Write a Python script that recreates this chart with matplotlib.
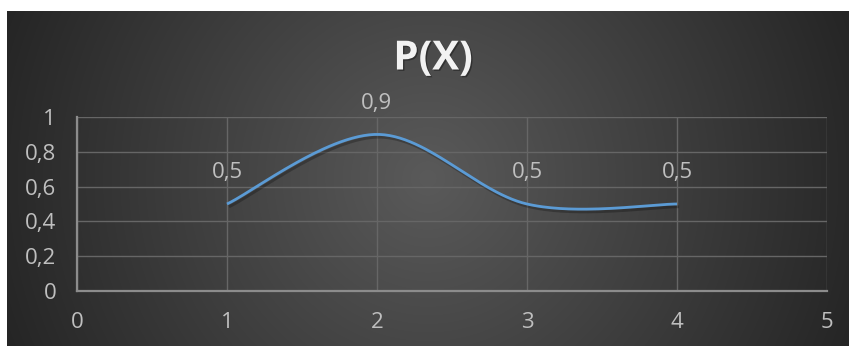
import numpy as np
import matplotlib
matplotlib.use("Agg")
import matplotlib.pyplot as plt
import matplotlib.patheffects as pe
from matplotlib.ticker import FuncFormatter, MultipleLocator

# Series data
x_vals = [1, 2, 3, 4]
p_vals = [0.5, 0.9, 0.5, 0.5]
title_text = "P(X)"

plt.rcParams['font.family'] = ['Open Sans', 'DejaVu Sans']

W, H, DPI = 849, 347, 100
fig = plt.figure(figsize=(W / DPI, H / DPI), dpi=DPI)
fig.patch.set_facecolor("white")

# Chart panel with a radial grey gradient
px0, px1, py0, py1 = 7, 849, 11, 346
bg = fig.add_axes([px0 / W, 1 - py1 / H, (px1 - px0) / W, (py1 - py0) / H])
bg.set_axis_off()
gx = np.arange(px0, px1) + 0.5
gy = np.arange(py0, py1) + 0.5
XX, YY = np.meshgrid(gx, gy)
cx, cy = (px0 + px1) / 2, (py0 + py1) / 2
rmax = np.hypot(px1 - cx, py1 - cy)
r = np.clip(np.hypot(XX - cx, YY - cy) / rmax, 0, 1)
c_in, c_out = 0x5a / 255, 0x25 / 255
g = c_in + (c_out - c_in) * r
img = np.dstack([g, g, g])
bg.imshow(img, aspect="auto", extent=[0, 1, 0, 1], interpolation="bilinear")
bg.set_xlim(0, 1)
bg.set_ylim(0, 1)

# Plot area
ax_l, ax_r, ax_t, ax_b = 77, 827, 117, 291
ax = fig.add_axes([ax_l / W, 1 - ax_b / H, (ax_r - ax_l) / W, (ax_b - ax_t) / H])
ax.set_facecolor("none")
ax.set_xlim(0, 5)
ax.set_ylim(0, 1)
ax.xaxis.set_major_locator(MultipleLocator(1))
ax.yaxis.set_major_locator(MultipleLocator(0.2))

def comma_fmt(v, _pos=None):
    s = f"{v:.1f}".rstrip("0").rstrip(".")
    return s.replace(".", ",")

ax.xaxis.set_major_formatter(FuncFormatter(comma_fmt))
ax.yaxis.set_major_formatter(FuncFormatter(comma_fmt))
ax.grid(True, color="#666666", linewidth=1.0)
ax.set_axisbelow(True)
for side in ("top", "right"):
    ax.spines[side].set_visible(False)
for side in ("left", "bottom"):
    ax.spines[side].set_color("#8c8c8c")
    ax.spines[side].set_linewidth(1.6)
ax.tick_params(length=0, labelsize=16, colors="#bfbfbf")
ax.tick_params(axis="x", pad=15)
ax.tick_params(axis="y", pad=15)

# Smoothed curve (cubic Bezier segments through the points)
pts = np.column_stack([x_vals, p_vals]).astype(float)
n = len(pts)
curve = []
for i in range(n - 1):
    p0 = pts[max(i - 1, 0)]
    p1 = pts[i]
    p2 = pts[i + 1]
    p3 = pts[min(i + 2, n - 1)]
    c1 = p1 + (p2 - p0) / 6
    c2 = p2 - (p3 - p1) / 6
    t = np.linspace(0, 1, 60)[:, None]
    seg = ((1 - t) ** 3) * p1 + 3 * t * (1 - t) ** 2 * c1 + 3 * t ** 2 * (1 - t) * c2 + t ** 3 * p2
    curve.append(seg if i == 0 else seg[1:])
curve = np.vstack(curve)
ax.plot(curve[:, 0], curve[:, 1], color="#5b9bd5", linewidth=2.0,
        solid_capstyle="butt", clip_on=False,
        path_effects=[pe.SimpleLineShadow(offset=(1.5, -2), shadow_color="black", alpha=0.25),
                      pe.Normal()])

# Value labels
for xv, yv in zip(x_vals, p_vals):
    ax.annotate(comma_fmt(yv), (xv, yv), xytext=(0, 22.5), textcoords="offset points",
                ha="center", va="center", fontsize=16, color="#bfbfbf")

# Title with a soft drop shadow
fig.text(433 / W, 1 - 59 / H, title_text, ha="center", va="center",
         fontsize=29, fontweight="bold", color="#f2f2f2",
         path_effects=[pe.withSimplePatchShadow(offset=(1, -1), shadow_rgbFace="black", alpha=0.35)])

fig.savefig("out.png", dpi=DPI, facecolor=fig.get_facecolor())
